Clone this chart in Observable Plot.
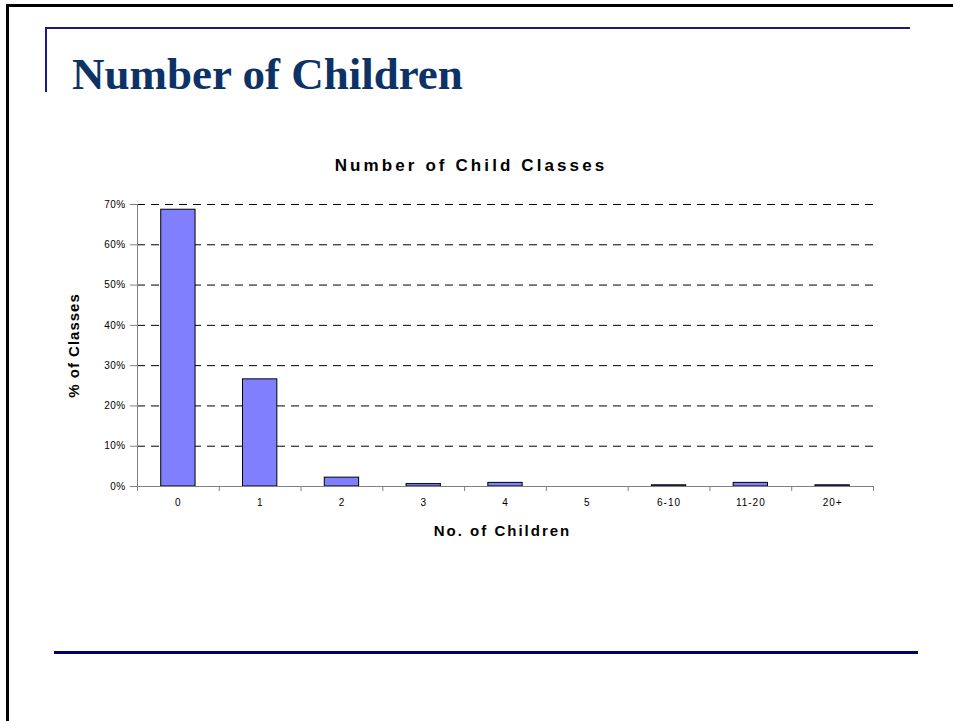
<!DOCTYPE html>
<html>
<head>
<meta charset="utf-8">
<script src="https://cdn.jsdelivr.net/npm/d3@7"></script>
<script src="https://cdn.jsdelivr.net/npm/@observablehq/plot@0.6"></script>
<style>
  html, body { margin: 0; padding: 0; background: #fff; }
  body { width: 953px; height: 721px; position: relative; overflow: hidden; font-family: "Liberation Sans", Arial, sans-serif; }
  .frame-top { position: absolute; left: 6px; top: 4px; width: 947px; height: 3px; background: #000; }
  .frame-left { position: absolute; left: 6px; top: 4px; width: 3px; height: 717px; background: #000; }
  .rule-top { position: absolute; left: 45px; top: 27px; width: 865px; height: 2px; background: #1a1a80; }
  .rule-left { position: absolute; left: 45px; top: 27px; width: 2px; height: 65px; background: #1a1a80; }
  .rule-bottom { position: absolute; left: 54px; top: 651px; width: 864px; height: 3px; background: #000066; }
  .slide-title { position: absolute; left: 72px; top: 48px; font-family: "Liberation Serif", "Times New Roman", serif; font-weight: bold; font-size: 45px; line-height: 52px; color: #0d3366; white-space: nowrap; }
  .chart-title { position: absolute; left: 0; width: 942px; top: 156px; text-align: center; font-weight: bold; font-size: 17px; letter-spacing: 3.1px; color: #000; white-space: nowrap; }
  #chart { position: absolute; left: 0; top: 140px; }
  #chart g[aria-label="x-axis tick label"] text { letter-spacing: 1px; }
  #chart g[aria-label="y-axis tick label"] text { letter-spacing: 0.4px; }
</style>
</head>
<body>
<div class="frame-top"></div>
<div class="frame-left"></div>
<div class="rule-top"></div>
<div class="rule-left"></div>
<div class="slide-title">Number of Children</div>
<div class="chart-title">Number of Child Classes</div>
<div id="chart"></div>
<div class="rule-bottom"></div>
<script>
const categories = ["0", "1", "2", "3", "4", "5", "6-10", "11-20", "20+"];
const percentOfClasses = [0.687, 0.266, 0.022, 0.006, 0.009, 0.0, 0.003, 0.009, 0.003];
const yTicks = [0, 0.1, 0.2, 0.3, 0.4, 0.5, 0.6, 0.7];
const gridTicks = [0.1, 0.2, 0.3, 0.4, 0.5, 0.6, 0.7];
const xTitle = "No. of Children";
const yTitle = "% of Classes";

const data = categories.map((c, i) => ({cat: c, pct: percentOfClasses[i]}));

const W = 953, H = 420;
const ML = 137, MR = 80, MT = 64, MB = 74;
const halfStep = (W - ML - MR) / categories.length / 2;

const chart = Plot.plot({
  width: W,
  height: H,
  marginLeft: ML,
  marginRight: MR,
  marginTop: MT,
  marginBottom: MB,
  style: {fontFamily: "'Liberation Sans', Arial, sans-serif", background: "transparent", color: "#000", overflow: "visible"},
  x: {type: "band", domain: categories, paddingInner: 0.58, paddingOuter: 0.29, round: false, label: null},
  y: {domain: [0, 0.7], label: null},
  marks: [
    Plot.gridY(gridTicks, {stroke: "#000", strokeOpacity: 1, strokeWidth: 1, strokeDasharray: "8,6"}),
    Plot.axisY(yTicks, {tickFormat: d3.format(".0%"), tickSize: 7, tickPadding: 5, fontSize: 10, stroke: "#808080", fill: "#000", label: null}),
    Plot.axisX(categories, {tickSize: 0, tickPadding: 12, fontSize: 10, fill: "#000", label: null}),
    Plot.barY(data, {x: "cat", y: "pct", fill: "#8080ff", stroke: "#000", strokeWidth: 1}),
    Plot.ruleX([categories[0]], {x: d => d, stroke: "#808080", strokeWidth: 1, dx: -halfStep}),
    Plot.ruleY([0], {stroke: "#808080", strokeWidth: 1}),
    Plot.ruleX(categories, {x: d => d, y1: 0, y2: 0, insetBottom: -5, dx: halfStep, stroke: "#808080"}),
    Plot.ruleX([categories[0]], {x: d => d, y1: 0, y2: 0, insetBottom: -5, dx: -halfStep, stroke: "#808080"}),
    Plot.text([xTitle], {frameAnchor: "bottom", dy: 49, dx: -3, text: d => d, fontSize: 15, fontWeight: "bold", fill: "#000"}),
    Plot.text([yTitle], {frameAnchor: "left", textAnchor: "middle", dx: -63, rotate: -90, text: d => d, fontSize: 15, fontWeight: "bold", fill: "#000"})
  ]
});
d3.select(chart).selectAll("text").each(function() {
  const t = this.textContent;
  if (t === xTitle) this.style.letterSpacing = "2px";
  if (t === yTitle) this.style.letterSpacing = "1px";
});
document.getElementById("chart").appendChild(chart);
</script>
</body>
</html>
